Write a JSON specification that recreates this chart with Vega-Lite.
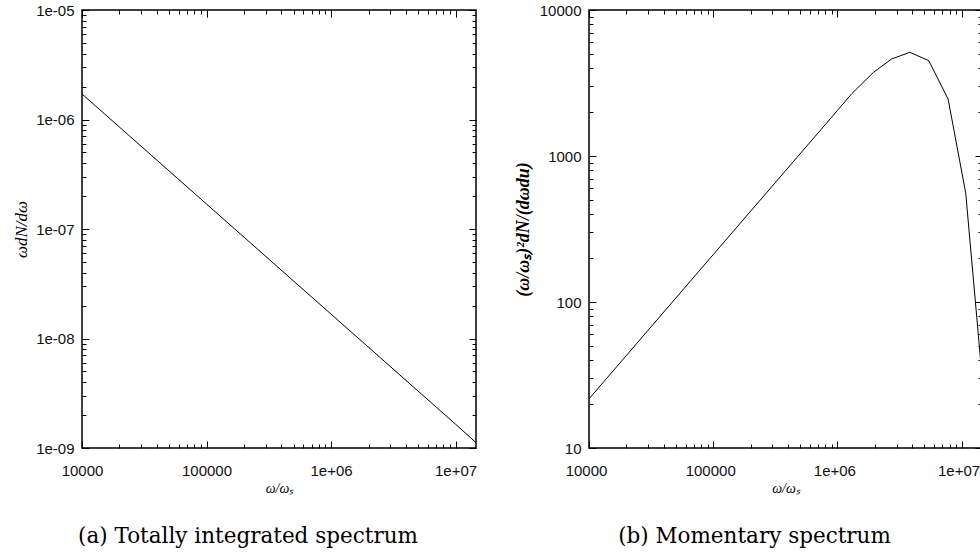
{
  "$schema": "https://vega.github.io/schema/vega-lite/v6.json",
  "background": "white",
  "padding": {"left": 11, "top": 2, "right": 0, "bottom": 0},
  "autosize": {"type": "pad"},
  "bounds": "flush",
  "spacing": 113,
  "config": {
    "view": {"stroke": "black", "strokeWidth": 1.5},
    "axis": {
      "labelFont": "Liberation Sans",
      "labelFontSize": 15,
      "labelColor": "#111",
      "tickColor": "black",
      "tickWidth": 1,
      "domain": false,
      "grid": false,
      "labelFlush": false,
      "labelOverlap": false
    }
  },
  "datasets": {
    "a": [
      {"w": 10000, "v": 1.71e-6},
      {"w": 100000, "v": 1.69e-7},
      {"w": 1000000, "v": 1.67e-8},
      {"w": 10000000, "v": 1.65e-9},
      {"w": 14600000, "v": 1.12e-9}
    ],
    "b": [
      {"w": 10000, "v": 21.7},
      {"w": 100000, "v": 211},
      {"w": 1000000, "v": 2050},
      {"w": 1300000, "v": 2660},
      {"w": 1950000, "v": 3740},
      {"w": 2730000, "v": 4615},
      {"w": 3830000, "v": 5130},
      {"w": 5440000, "v": 4500},
      {"w": 7790000, "v": 2455},
      {"w": 10800000, "v": 556},
      {"w": 14600000, "v": 31}
    ]
  },
  "hconcat": [
    {
      "width": 394,
      "height": 438,
      "title": {"text": "(a) Totally integrated spectrum", "orient": "bottom", "anchor": "middle", "font": "DejaVu Serif", "fontSize": 21.5, "fontWeight": "normal", "color": "black", "offset": 31, "dx": -31},
      "data": {"name": "a"},
      "resolve": {"axis": {"x": "independent", "y": "independent"}},
      "layer": [
        {
          "mark": {"type": "line", "color": "black", "strokeWidth": 1, "clip": true},
          "encoding": {
            "x": {"field": "w", "type": "quantitative", "scale": {"type": "log", "domain": [10000, 14600000], "nice": false},
              "axis": {"orient": "bottom", "values": [10000, 100000, 1000000, 10000000], "ticks": false, "labelPadding": 15,
                "labelExpr": "datum.value < 500000 ? format(datum.value, 'd') : '1e+0' + round(log(datum.value)/LN10)",
                "title": "ω/ωₛ", "titleFont": "Liberation Serif", "titleFontStyle": "italic", "titleFontWeight": "normal", "titleFontSize": 14, "titleColor": "black", "titlePadding": 3}},
            "y": {"field": "v", "type": "quantitative", "scale": {"type": "log", "domain": [1e-9, 1e-5], "nice": false},
              "axis": {"orient": "left", "values": [1e-9, 1e-8, 1e-7, 1e-6, 1e-5], "ticks": false, "labelPadding": 8,
                "labelExpr": "'1e-0' + round(-log(datum.value)/LN10)",
                "title": "ωdN/dω", "titleFont": "Liberation Serif", "titleFontStyle": "italic", "titleFontWeight": "normal", "titleFontSize": 17, "titleColor": "black", "titlePadding": 5}}
          }
        },
        {
          "mark": {"type": "point", "opacity": 0},
          "encoding": {
            "x": {"field": "w", "type": "quantitative", "scale": {"type": "log", "domain": [10000, 14600000], "nice": false},
              "axis": {"orient": "bottom", "values": [10000, 100000, 1000000, 10000000], "labels": false, "title": null, "tickSize": -7}},
            "y": {"field": "v", "type": "quantitative", "scale": {"type": "log", "domain": [1e-9, 1e-5], "nice": false},
              "axis": {"orient": "left", "values": [1e-9, 1e-8, 1e-7, 1e-6, 1e-5], "labels": false, "title": null, "tickSize": -7}}
          }
        },
        {
          "mark": {"type": "point", "opacity": 0},
          "encoding": {
            "x": {"field": "w", "type": "quantitative", "scale": {"type": "log", "domain": [10000, 14600000], "nice": false},
              "axis": {"orient": "bottom", "values": [20000, 30000, 40000, 50000, 60000, 70000, 80000, 90000, 200000, 300000, 400000, 500000, 600000, 700000, 800000, 900000, 2000000, 3000000, 4000000, 5000000, 6000000, 7000000, 8000000, 9000000], "labels": false, "title": null, "tickSize": -4}},
            "y": {"field": "v", "type": "quantitative", "scale": {"type": "log", "domain": [1e-9, 1e-5], "nice": false},
              "axis": {"orient": "left", "values": [2e-9, 3e-9, 4e-9, 5e-9, 6e-9, 7e-9, 8e-9, 9e-9, 2e-8, 3e-8, 4e-8, 5e-8, 6e-8, 7e-8, 8e-8, 9e-8, 2e-7, 3e-7, 4e-7, 5e-7, 6e-7, 7e-7, 8e-7, 9e-7, 2e-6, 3e-6, 4e-6, 5e-6, 6e-6, 7e-6, 8e-6, 9e-6], "labels": false, "title": null, "tickSize": -4}}
          }
        },
        {
          "mark": {"type": "point", "opacity": 0},
          "encoding": {
            "x": {"field": "w", "type": "quantitative", "scale": {"type": "log", "domain": [10000, 14600000], "nice": false},
              "axis": {"orient": "top", "values": [10000, 100000, 1000000, 10000000], "labels": false, "title": null, "tickSize": -7}},
            "y": {"field": "v", "type": "quantitative", "scale": {"type": "log", "domain": [1e-9, 1e-5], "nice": false},
              "axis": {"orient": "right", "values": [1e-9, 1e-8, 1e-7, 1e-6, 1e-5], "labels": false, "title": null, "tickSize": -7}}
          }
        },
        {
          "mark": {"type": "point", "opacity": 0},
          "encoding": {
            "x": {"field": "w", "type": "quantitative", "scale": {"type": "log", "domain": [10000, 14600000], "nice": false},
              "axis": {"orient": "top", "values": [20000, 30000, 40000, 50000, 60000, 70000, 80000, 90000, 200000, 300000, 400000, 500000, 600000, 700000, 800000, 900000, 2000000, 3000000, 4000000, 5000000, 6000000, 7000000, 8000000, 9000000], "labels": false, "title": null, "tickSize": -4}},
            "y": {"field": "v", "type": "quantitative", "scale": {"type": "log", "domain": [1e-9, 1e-5], "nice": false},
              "axis": {"orient": "right", "values": [2e-9, 3e-9, 4e-9, 5e-9, 6e-9, 7e-9, 8e-9, 9e-9, 2e-8, 3e-8, 4e-8, 5e-8, 6e-8, 7e-8, 8e-8, 9e-8, 2e-7, 3e-7, 4e-7, 5e-7, 6e-7, 7e-7, 8e-7, 9e-7, 2e-6, 3e-6, 4e-6, 5e-6, 6e-6, 7e-6, 8e-6, 9e-6], "labels": false, "title": null, "tickSize": -4}}
          }
        }
      ]
    },
    {
      "width": 393,
      "height": 438,
      "title": {"text": "(b) Momentary spectrum", "orient": "bottom", "anchor": "middle", "font": "DejaVu Serif", "fontSize": 21.5, "fontWeight": "normal", "color": "black", "offset": 31, "dx": -31},
      "data": {"name": "b"},
      "resolve": {"axis": {"x": "independent", "y": "independent"}},
      "layer": [
        {
          "mark": {"type": "line", "color": "black", "strokeWidth": 1, "clip": true},
          "encoding": {
            "x": {"field": "w", "type": "quantitative", "scale": {"type": "log", "domain": [10000, 14600000], "nice": false},
              "axis": {"orient": "bottom", "values": [10000, 100000, 1000000, 10000000], "ticks": false, "labelPadding": 15, "labelOffset": -3,
                "labelExpr": "datum.value < 500000 ? format(datum.value, 'd') : '1e+0' + round(log(datum.value)/LN10)",
                "title": "ω/ωₛ", "titleFont": "Liberation Serif", "titleFontStyle": "italic", "titleFontWeight": "normal", "titleFontSize": 14, "titleColor": "black", "titlePadding": 3}},
            "y": {"field": "v", "type": "quantitative", "scale": {"type": "log", "domain": [10, 10000], "nice": false},
              "axis": {"orient": "left", "values": [10, 100, 1000, 10000], "ticks": false, "labelPadding": 8,
                "labelExpr": "format(datum.value, 'd')",
                "title": "(ω/ωₛ)²dN/(dωdu)", "titleFont": "Liberation Serif", "titleFontStyle": "italic", "titleFontWeight": "bold", "titleFontSize": 18, "titleColor": "black", "titlePadding": 7}}
          }
        },
        {
          "mark": {"type": "point", "opacity": 0},
          "encoding": {
            "x": {"field": "w", "type": "quantitative", "scale": {"type": "log", "domain": [10000, 14600000], "nice": false},
              "axis": {"orient": "bottom", "values": [10000, 100000, 1000000, 10000000], "labels": false, "title": null, "tickSize": -7}},
            "y": {"field": "v", "type": "quantitative", "scale": {"type": "log", "domain": [10, 10000], "nice": false},
              "axis": {"orient": "left", "values": [10, 100, 1000, 10000], "labels": false, "title": null, "tickSize": -7}}
          }
        },
        {
          "mark": {"type": "point", "opacity": 0},
          "encoding": {
            "x": {"field": "w", "type": "quantitative", "scale": {"type": "log", "domain": [10000, 14600000], "nice": false},
              "axis": {"orient": "bottom", "values": [20000, 30000, 40000, 50000, 60000, 70000, 80000, 90000, 200000, 300000, 400000, 500000, 600000, 700000, 800000, 900000, 2000000, 3000000, 4000000, 5000000, 6000000, 7000000, 8000000, 9000000], "labels": false, "title": null, "tickSize": -4}},
            "y": {"field": "v", "type": "quantitative", "scale": {"type": "log", "domain": [10, 10000], "nice": false},
              "axis": {"orient": "left", "values": [20, 30, 40, 50, 60, 70, 80, 90, 200, 300, 400, 500, 600, 700, 800, 900, 2000, 3000, 4000, 5000, 6000, 7000, 8000, 9000], "labels": false, "title": null, "tickSize": -4}}
          }
        },
        {
          "mark": {"type": "point", "opacity": 0},
          "encoding": {
            "x": {"field": "w", "type": "quantitative", "scale": {"type": "log", "domain": [10000, 14600000], "nice": false},
              "axis": {"orient": "top", "values": [10000, 100000, 1000000, 10000000], "labels": false, "title": null, "tickSize": -7}},
            "y": {"field": "v", "type": "quantitative", "scale": {"type": "log", "domain": [10, 10000], "nice": false},
              "axis": {"orient": "right", "values": [10, 100, 1000, 10000], "labels": false, "title": null, "tickSize": -7}}
          }
        },
        {
          "mark": {"type": "point", "opacity": 0},
          "encoding": {
            "x": {"field": "w", "type": "quantitative", "scale": {"type": "log", "domain": [10000, 14600000], "nice": false},
              "axis": {"orient": "top", "values": [20000, 30000, 40000, 50000, 60000, 70000, 80000, 90000, 200000, 300000, 400000, 500000, 600000, 700000, 800000, 900000, 2000000, 3000000, 4000000, 5000000, 6000000, 7000000, 8000000, 9000000], "labels": false, "title": null, "tickSize": -4}},
            "y": {"field": "v", "type": "quantitative", "scale": {"type": "log", "domain": [10, 10000], "nice": false},
              "axis": {"orient": "right", "values": [20, 30, 40, 50, 60, 70, 80, 90, 200, 300, 400, 500, 600, 700, 800, 900, 2000, 3000, 4000, 5000, 6000, 7000, 8000, 9000], "labels": false, "title": null, "tickSize": -4}}
          }
        }
      ]
    }
  ]
}
